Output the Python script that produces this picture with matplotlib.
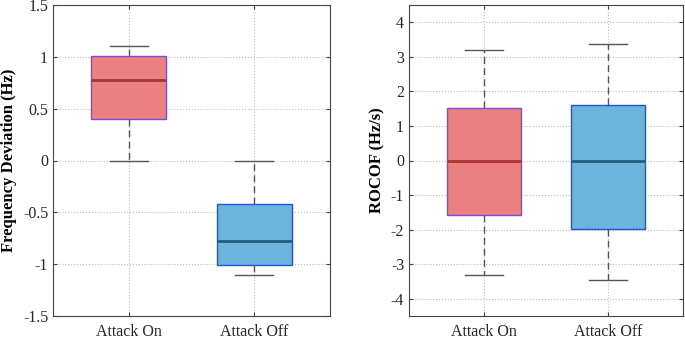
import matplotlib
matplotlib.use("Agg")
import matplotlib.pyplot as plt

plt.rcParams["font.family"] = ["Liberation Serif", "DejaVu Serif"]

groups = ["Attack On", "Attack Off"]

# frequency deviation (Hz): whislo, q1, med, q3, whishi
freq_lo = [0.0, -1.1]
freq_q1 = [0.40, -1.01]
freq_med = [0.78, -0.78]
freq_q3 = [1.01, -0.42]
freq_hi = [1.1, 0.0]

# ROCOF (Hz/s)
rocof_lo = [-3.30, -3.46]
rocof_q1 = [-1.57, -1.97]
rocof_med = [0.0, 0.0]
rocof_q3 = [1.52, 1.61]
rocof_hi = [3.21, 3.38]

fills = ["#ec8080", "#6bb4da"]
edges = ["#7a4fd8", "#2a4ee0"]
meds = ["#a83434", "#1f5f80"]


def draw(ax, lo, q1, med, q3, hi, ylim, yticks, ylabel):
    stats = []
    for i, g in enumerate(groups):
        stats.append(dict(label=g, whislo=lo[i], q1=q1[i], med=med[i],
                          q3=q3[i], whishi=hi[i], fliers=[]))
    for i, s in enumerate(stats):
        ax.bxp([s], positions=[i + 1], widths=0.6, patch_artist=True,
               showfliers=False,
               boxprops=dict(facecolor=fills[i], edgecolor=edges[i], lw=1.0),
               medianprops=dict(color=meds[i], lw=2.0),
               whiskerprops=dict(color="#555555", lw=1.0, ls=(0, (5, 3))),
               capprops=dict(color="#555555", lw=1.0),
               capwidths=0.3)
    ax.set_xlim(0.395, 2.605)
    ax.set_ylim(*ylim)
    ax.set_yticks(yticks)
    ax.set_yticklabels([f"{t:g}" for t in yticks])
    ax.set_xticks([1, 2])
    ax.set_xticklabels(groups)
    ax.grid(True, ls=":", color="#bbbbbb", lw=0.8)
    ax.set_axisbelow(True)
    ax.tick_params(direction="in", top=True, right=True, labelsize=11.5,
                   colors="#262626", length=3, color="#444444")
    ax.tick_params(axis="x", pad=6)
    for sp in ax.spines.values():
        sp.set_color("#444444")
        sp.set_linewidth(0.8)
    ax.set_ylabel(ylabel, fontsize=12, fontweight="bold", labelpad=4)


fig = plt.figure(figsize=(6.85, 3.4), dpi=100)
ax1 = fig.add_axes([53 / 685, 24 / 340, 277 / 685, 311 / 340])
ax2 = fig.add_axes([409 / 685, 24 / 340, 274 / 685, 311 / 340])

draw(ax1, freq_lo, freq_q1, freq_med, freq_q3, freq_hi, (-1.5, 1.5),
     [-1.5, -1, -0.5, 0, 0.5, 1, 1.5], "Frequency Deviation (Hz)")
draw(ax2, rocof_lo, rocof_q1, rocof_med, rocof_q3, rocof_hi, (-4.5, 4.5),
     [-4, -3, -2, -1, 0, 1, 2, 3, 4], "ROCOF (Hz/s)")

fig.savefig("out.png", dpi=100)
